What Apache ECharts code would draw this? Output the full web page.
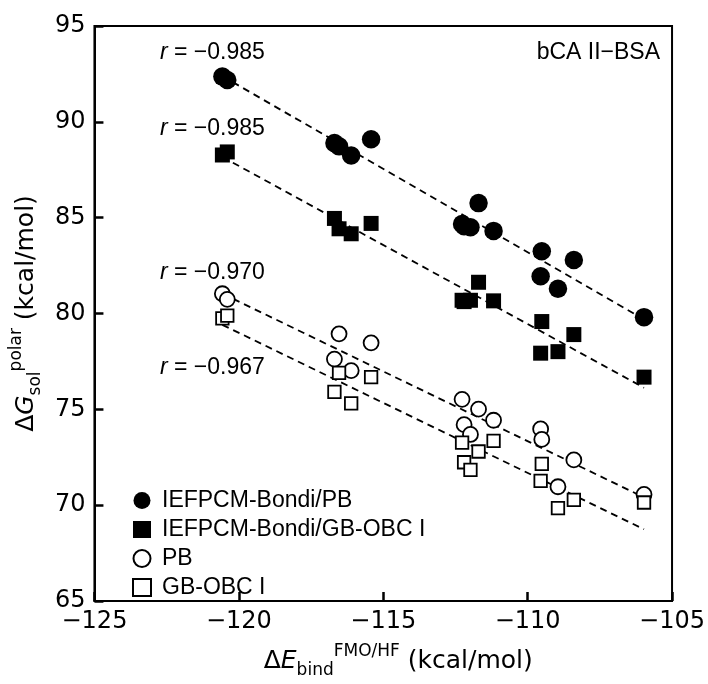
<!DOCTYPE html>
<html><head><meta charset="utf-8">
<script src="https://cdn.jsdelivr.net/npm/echarts@6/dist/echarts.min.js"></script>
<style>html,body{margin:0;padding:0;background:#fff}#c{width:708px;height:684px}</style>
</head><body><div id="c"></div>
<script>
// ---- data ----
const xValues = [-120.57, -120.40, -116.69, -116.53, -116.11, -115.42, -112.27, -112.20, -111.98, -111.70, -111.18, -109.55, -109.51, -108.95, -108.40, -105.97];
const bondiPB = [92.36, 92.18, 88.89, 88.72, 88.24, 89.09, 84.67, 84.55, 84.50, 85.76, 84.31, 81.94, 83.25, 81.29, 82.79, 79.81];
const bondiGB = [88.27, 88.43, 84.96, 84.42, 84.16, 84.70, 80.69, 80.62, 80.69, 81.63, 80.66, 77.93, 79.58, 78.01, 78.90, 76.68];
const pbVals  = [81.03, 80.74, 77.62, 78.94, 77.02, 78.47, 75.52, 74.20, 73.69, 75.01, 74.43, 73.98, 73.43, 70.96, 72.36, 70.56];
const gbVals  = [79.75, 79.89, 75.91, 76.90, 75.31, 76.68, 73.26, 72.24, 71.84, 72.80, 73.35, 71.27, 72.15, 69.85, 70.28, 70.14];
const seriesNames = ['IEFPCM-Bondi/PB', 'IEFPCM-Bondi/GB-OBC I', 'PB', 'GB-OBC I'];
const rValues = ['−0.985', '−0.985', '−0.970', '−0.967'];
const panelLabel = 'bCA II−BSA';

const FONT = '"Liberation Sans", Arial, Helvetica, sans-serif';
const WFONT = '"DejaVu Sans", "Liberation Sans", sans-serif';

function pairs(ys) { return xValues.map((x, i) => [x, ys[i]]); }
function fitLine(ys) {
  const n = xValues.length;
  let sx = 0, sy = 0, sxx = 0, sxy = 0;
  for (let i = 0; i < n; i++) { const x = xValues[i], y = ys[i]; sx += x; sy += y; sxx += x * x; sxy += x * y; }
  const b = (n * sxy - sx * sy) / (n * sxx - sx * sx);
  const a = (sy - b * sx) / n;
  const xmin = Math.min(...xValues), xmax = Math.max(...xValues);
  return [[xmin, a + b * xmin], [xmax, a + b * xmax]];
}
const minus = v => String(v).replace('-', '−');

const chart = echarts.init(document.getElementById('c'));

const dataSets = [bondiPB, bondiGB, pbVals, gbVals];
const lineSeries = dataSets.map(ys => ({
  type: 'line', data: fitLine(ys), showSymbol: false, symbol: 'none', silent: true,
  lineStyle: { color: '#000', width: 1.8, type: [7, 5] }, z: 1, animation: false
}));
const scatterStyles = [
  { symbol: 'circle', symbolSize: 18.5, itemStyle: { color: '#000', borderColor: '#000', borderWidth: 0, opacity: 1 } },
  { symbol: 'rect', symbolSize: 15, itemStyle: { color: '#000', borderColor: '#000', borderWidth: 0, opacity: 1 } },
  { symbol: 'circle', symbolSize: 15, itemStyle: { color: '#fff', borderColor: '#000', borderWidth: 1.8, opacity: 1 } },
  { symbol: 'rect', symbolSize: 12.5, itemStyle: { color: '#fff', borderColor: '#000', borderWidth: 1.8, opacity: 1 } }
];
const scatterSeries = dataSets.map((ys, i) => Object.assign({
  type: 'scatter', name: seriesNames[i], data: pairs(ys), z: 3 + i, animation: false
}, scatterStyles[i]));

const rLabelY = [53, 129, 273, 368];
const graphics = rValues.map((r, i) => ({
  type: 'text', x: 160, y: rLabelY[i],
  style: {
    text: '{i|r} = ' + r, fill: '#000', font: '23px ' + FONT, verticalAlign: 'middle', align: 'left',
    rich: { i: { fontStyle: 'italic', fontSize: 23, fontFamily: FONT } }
  }
}));
graphics.push({
  type: 'text', x: 660, y: 53,
  style: { text: panelLabel, fill: '#000', font: '23px ' + FONT, align: 'right', verticalAlign: 'middle' }
});

const axisLine = { show: true, lineStyle: { color: '#000', width: 2 } };
const axisTick = { show: true, inside: true, length: 9, lineStyle: { color: '#000', width: 2.5 } };
const richName = {
  m: { fontSize: 25, fontFamily: WFONT, color: '#000', lineHeight: 36 },
  it: { fontSize: 25, fontFamily: WFONT, color: '#000', lineHeight: 36, fontStyle: 'italic' },
  sup: { fontSize: 17, fontFamily: WFONT, color: '#000', lineHeight: 17, verticalAlign: 'top' },
  sub: { fontSize: 17, fontFamily: WFONT, color: '#000', lineHeight: 17, verticalAlign: 'bottom' }
};

chart.setOption({
  backgroundColor: '#fff',
  animation: false,
  grid: { left: 89, top: 26, width: 585, height: 585, show: true, borderColor: '#000', borderWidth: 2, containLabel: false },
  xAxis: {
    type: 'value', min: -125, max: -105, interval: 5,
    axisLine, axisTick, splitLine: { show: false },
    axisLabel: { color: '#000', fontSize: 24, fontFamily: WFONT, margin: 9, formatter: minus },
    name: '{m|Δ}{it|E}{sub|bind}{sup|FMO/HF}{m| (kcal/mol)}',
    nameLocation: 'middle', nameGap: 42,
    nameTextStyle: { rich: richName, padding: [0, 0, 0, 30] }
  },
  yAxis: {
    type: 'value', min: 65, max: 95, interval: 5,
    axisLine, axisTick, splitLine: { show: false },
    axisLabel: { color: '#000', fontSize: 24, fontFamily: WFONT, margin: 9 },
    name: '{m|Δ}{it|G}{sub|sol}{sup|polar}{m| (kcal/mol)}',
    nameLocation: 'middle', nameGap: 48, nameRotate: 90,
    nameTextStyle: { rich: richName }
  },
  legend: {
    orient: 'vertical', left: 127, top: 484, itemWidth: 18, itemHeight: 17, itemGap: 6,
    data: seriesNames,
    textStyle: { fontSize: 23, fontFamily: FONT, color: '#000', lineHeight: 22, padding: [0, 0, 0, 6] }
  },
  graphic: graphics,
  series: lineSeries.concat(scatterSeries)
});
</script></body></html>
